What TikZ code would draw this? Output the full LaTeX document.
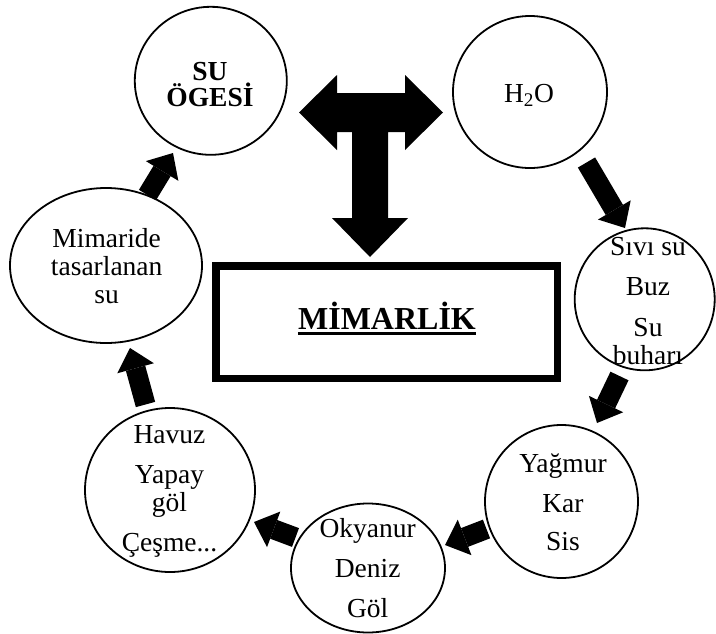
\documentclass[tikz,border=0pt]{standalone}
\usepackage{fontspec}
\setmainfont{Liberation Serif}
\usetikzlibrary{shapes.geometric,arrows.meta}
\newcommand\sm[1]{\smash{#1}}
\begin{document}
\begin{tikzpicture}[x=1pt,y=-1pt,
  bub/.style={ellipse, draw, line width=1.8pt, inner sep=0pt},
  txt/.style={anchor=base, inner sep=0pt, font=\fontsize{27.5}{28.4}\selectfont},
  blk/.style={line width=20pt, -{Triangle[line width=0pt, width=38pt, length=21pt]}},
  tarrow/.style={fill=black},
  mainbox/.style={draw, line width=7.5pt, minimum width=341.5pt, minimum height=112.5pt, inner sep=0pt}
]
\useasboundingbox (0,0) rectangle (716,633);

% circles
\node[bub, minimum width=152pt, minimum height=148pt] (su)  at (210.8,80.8) {};
\node[bub, minimum width=154pt, minimum height=152pt] (h2o) at (530,92) {};
\node[bub, minimum width=140pt, minimum height=142pt] (siv) at (644.7,299.3) {};
\node[bub, minimum width=153pt, minimum height=153pt] (yag) at (561.5,501.5) {};
\node[bub, minimum width=154pt, minimum height=129pt] (oky) at (368,568) {};
\node[bub, minimum width=170pt, minimum height=164pt] (hav) at (170,490) {};
\node[bub, minimum width=192pt, minimum height=155pt] (mim) at (106,265.5) {};

% texts
\node[txt] (tsu) at (210,80) {\bfseries\begin{tabular}[t]{@{}c@{}}\sm{SU}\\[-1.7pt]\sm{ÖGESİ}\end{tabular}};
\node[txt] (th2o) at (529,102) {H\textsubscript{2}O};
\node[txt] (tsiv) at (648,255) {\begin{tabular}[t]{@{}c@{}}\sm{Sıvı su}\\[11.6pt]\sm{Buz}\\[12.6pt]\sm{Su}\\\sm{buharı}\end{tabular}};
\node[txt] (tyag) at (563,472) {\begin{tabular}[t]{@{}c@{}}\sm{Yağmur}\\[11.6pt]\sm{Kar}\\[9.6pt]\sm{Sis}\end{tabular}};
\node[txt] (toky) at (367.7,537) {\begin{tabular}[t]{@{}c@{}}\sm{Okyanur}\\[11.6pt]\sm{Deniz}\\[11.6pt]\sm{Göl}\end{tabular}};
\node[txt] (thav) at (169.5,443) {\begin{tabular}[t]{@{}c@{}}\sm{Havuz}\\[11.6pt]\sm{Yapay}\\\sm{göl}\\[11.6pt]\sm{Çeşme...}\end{tabular}};
\node[txt] (tmim) at (106.7,247) {\begin{tabular}[t]{@{}c@{}}\sm{Mimaride}\\\sm{tasarlanan}\\\sm{su}\end{tabular}};

% central box
\node[mainbox] (box) at (386.5,322) {};
\node[anchor=base, inner sep=0pt, font=\fontsize{32}{36}\selectfont\bfseries] (mtx) at (387,329) {MİMARLİK};
\draw[line width=3.5pt] ([yshift=-4.7pt]mtx.base west) -- ([yshift=-4.7pt]mtx.base east);

% T-shaped three-way arrow
\fill[tarrow] (299,112.5) -- (337,75) -- (337,93) -- (405,93) -- (405,75) -- (443,112.5)
  -- (405,150) -- (405,132) -- (388,132) -- (388,218) -- (408,218) -- (370,257)
  -- (332,218) -- (352,218) -- (352,132) -- (337,132) -- (337,150) -- cycle;

% cycle arrows
\coordinate (a1s) at (147.5,195);  \coordinate (a1e) at (173,153);
\coordinate (a2s) at (586.5,162.5);\coordinate (a2e) at (625,228);
\coordinate (a3s) at (619.5,376);  \coordinate (a3e) at (597,423);
\coordinate (a4s) at (486.5,529);  \coordinate (a4e) at (445,545);
\coordinate (a5s) at (295.5,537.5);\coordinate (a5e) at (254,522);
\coordinate (a6s) at (145.5,404.5);\coordinate (a6e) at (130,348);
\draw[blk] (a1s) -- (a1e);
\draw[blk] (a2s) -- (a2e);
\draw[blk] (a3s) -- (a3e);
\draw[blk] (a4s) -- (a4e);
\draw[blk] (a5s) -- (a5e);
\draw[blk] (a6s) -- (a6e);
\end{tikzpicture}
\end{document}
